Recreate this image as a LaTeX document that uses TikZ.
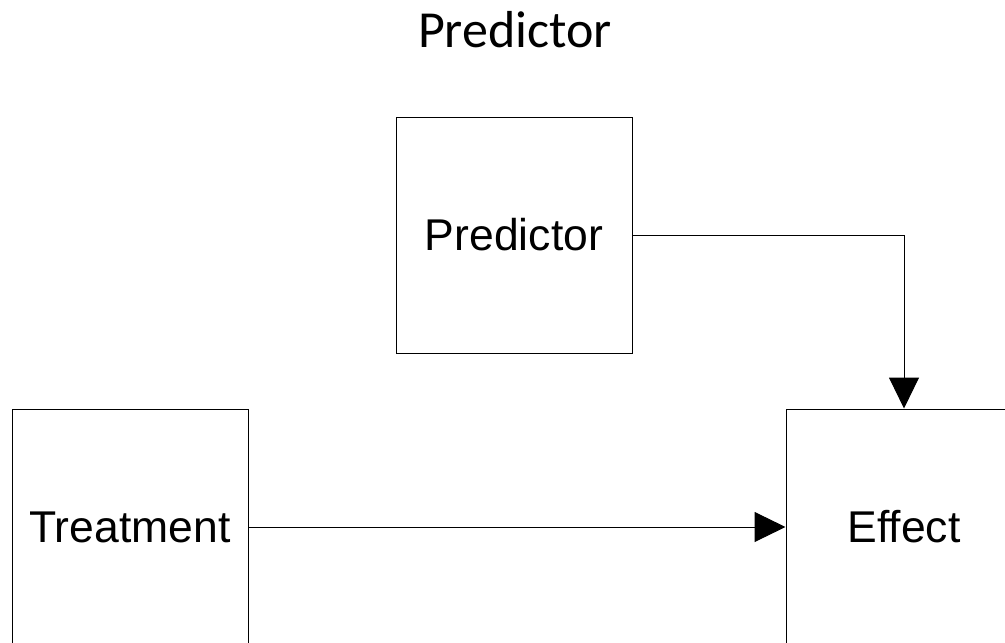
\documentclass[tikz,border=0pt]{standalone}
\usepackage{fontspec}
\setmainfont[Ligatures = NoCommon]{Liberation Sans}
\newfontfamily\titlefont{Carlito}
\usetikzlibrary{arrows.meta}

\tikzset{
  box/.style = {draw, line width = 1pt, minimum width = 236pt, minimum height = 236pt,
    inner sep = 0pt, font = \fontsize{44.5}{53}\selectfont},
  link/.style = {line width = 1pt, -{Triangle[length = 31pt, width = 30pt]}}
}

\begin{document}
\begin{tikzpicture}[x = 1pt, y = -1pt]
\useasboundingbox (0, 0) rectangle (1005, 643);
\node[anchor = base, font = \titlefont\fontsize{52}{62}\selectfont] (title) at (515, 47) {Predictor};
\node[box] (predictor) at (514, 235) {Predictor};
\node[box] (treatment) at (130, 527) {Treatment};
\node[box] (effect) at (904, 527) {Effect};
\draw[link] (treatment) -- (effect);
\draw[link] (predictor) -| (effect);
\end{tikzpicture}
\end{document}
